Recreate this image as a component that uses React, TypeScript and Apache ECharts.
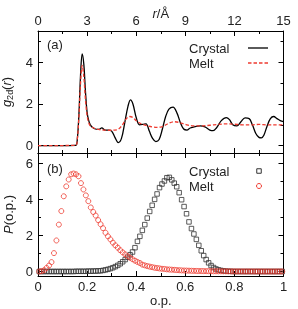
import React, { useEffect, useRef } from 'react';
import * as echarts from 'echarts';

// Panel (a): pair distribution g2d(r)
const rCrystal = [0, 2.3, 2.4, 2.5, 2.6, 2.7, 2.8, 2.9, 3.0, 3.1, 3.2, 3.3, 3.5, 3.7, 3.9, 4.1, 4.3, 4.5, 4.7, 4.9, 5.1, 5.3, 5.5, 5.65, 5.8, 6.0, 6.2, 6.4, 6.6, 6.8, 7.0, 7.2, 7.4, 7.6, 7.8, 8.0, 8.25, 8.5, 8.7, 8.9, 9.1, 9.3, 9.6, 9.9, 10.2, 10.5, 10.7, 10.9, 11.2, 11.5, 11.7, 11.9, 12.15, 12.4, 12.65, 12.9, 13.1, 13.3, 13.5, 13.65, 13.8, 14.0, 14.2, 14.4, 14.6, 14.8, 15.0];
const gCrystal = [0, 0.02, 0.3, 1.5, 3.4, 4.4, 3.9, 2.6, 1.6, 1.2, 1.0, 0.9, 0.8, 0.78, 0.85, 0.75, 0.75, 0.7, 0.4, 0.15, 0.35, 1.1, 1.9, 2.2, 2.0, 1.35, 1.0, 1.02, 1.05, 0.7, 0.35, 0.2, 0.3, 0.8, 1.4, 1.75, 1.85, 1.55, 1.1, 0.8, 0.75, 0.85, 0.92, 0.95, 0.9, 0.75, 0.72, 0.85, 1.2, 1.35, 1.25, 1.0, 0.95, 1.15, 1.33, 1.3, 1.0, 0.6, 0.4, 0.38, 0.5, 0.95, 1.3, 1.4, 1.3, 1.2, 1.15];
const rMelt = [0, 2.3, 2.4, 2.5, 2.6, 2.7, 2.8, 2.9, 3.0, 3.1, 3.2, 3.4, 3.7, 4.0, 4.4, 4.8, 5.0, 5.2, 5.4, 5.6, 5.8, 6.0, 6.3, 6.6, 7.0, 7.3, 7.6, 8.0, 8.3, 8.6, 9.0, 9.5, 10, 10.5, 11, 11.5, 12, 12.5, 13, 13.5, 14, 14.5, 15];
const gMelt = [0, 0.02, 0.3, 1.4, 3.0, 3.85, 3.3, 2.2, 1.45, 1.1, 0.95, 0.85, 0.78, 0.75, 0.74, 0.76, 0.85, 1.05, 1.3, 1.4, 1.35, 1.2, 1.05, 0.97, 0.9, 0.88, 0.92, 1.08, 1.15, 1.12, 1.02, 0.95, 0.95, 0.98, 1.02, 1.05, 1.03, 1.0, 1.0, 1.02, 1.0, 1.0, 1.0];

// Panel (b): order-parameter distributions, bins of width 0.01
const opBins = Array.from({ length: 100 }, (_, i) => +(0.005 + 0.01 * i).toFixed(3));
const pCrystal = [
  0, 0, 0, 0, 0, 0, 0, 0, 0, 0,
  0, 0, 0, 0, 0, 0.01, 0.01, 0.01, 0.01, 0.01,
  0.02, 0.02, 0.02, 0.03, 0.03, 0.04, 0.06, 0.09, 0.12, 0.16,
  0.21, 0.27, 0.34, 0.43, 0.54, 0.66, 0.79, 0.93, 1.08, 1.32,
  1.67, 1.95, 2.28, 2.6, 2.96, 3.33, 3.67, 4.0, 4.3, 4.65,
  4.85, 5.02, 5.2, 5.22, 5.08, 4.9, 4.7, 4.37, 3.98, 3.6,
  3.2, 2.75, 2.38, 2.08, 1.78, 1.45, 1.15, 0.88, 0.66, 0.48,
  0.33, 0.22, 0.14, 0.09, 0.06, 0.04, 0.02, 0.01, 0.01, 0,
  0, 0, 0, 0, 0, 0, 0, 0, 0, 0,
  0, 0, 0, 0, 0, 0, 0, 0, 0, 0,
];
const pMelt = [
  0, 0.02, 0.07, 0.2, 0.33, 0.52, 1.02, 1.72, 2.6, 3.35,
  4.17, 4.72, 5.1, 5.39, 5.43, 5.39, 5.28, 4.9, 4.55, 4.22,
  3.9, 3.55, 3.3, 3.1, 2.85, 2.62, 2.4, 2.15, 1.95, 1.78,
  1.6, 1.45, 1.32, 1.18, 1.06, 0.95, 0.85, 0.76, 0.68, 0.6,
  0.53, 0.47, 0.38, 0.34, 0.3, 0.27, 0.24, 0.21, 0.19, 0.17,
  0.15, 0.14, 0.12, 0.11, 0.1, 0.09, 0.08, 0.07, 0.06, 0.055,
  0.05, 0.045, 0.04, 0.035, 0.03, 0.028, 0.025, 0.022, 0.02, 0.018,
  0.016, 0.014, 0.012, 0.011, 0.01, 0.01, 0.009, 0.008, 0.007, 0.006,
  0.005, 0.005, 0.004, 0.004, 0.004, 0.003, 0.003, 0.003, 0.002, 0.002,
  0.002, 0.002, 0.001, 0.001, 0.001, 0.001, 0.001, 0.001, 0.001, 0.001,
];

const yTicksA = [0, 2, 4];
const yMinorA = [1, 3, 5];
const yTicksB = [0, 2, 4, 6];
const yMinorB = [1, 3, 5];

const FONT = '"Liberation Sans", Arial, Helvetica, sans-serif';
const TXT = '#222';
const RED = '#ee3b30';
const DARK = '#333';

const zip = (a: number[], b: number[]) => a.map((v, i) => [v, b[i]]);

export default function App() {
  const ref = useRef<HTMLDivElement>(null);
  useEffect(() => {
    if (!ref.current) return;
    const chart = echarts.init(ref.current, undefined, { renderer: 'svg' });
    const line = { show: true, onZero: false, lineStyle: { color: '#000', width: 1 } };
    const tick = (vals: number[] | undefined, len: number) => ({
      show: true, inside: true, length: len, ...(vals ? { customValues: vals } : {}),
      lineStyle: { color: '#000', width: 1 },
    });
    const label = { color: TXT, fontSize: 13, fontFamily: FONT, margin: 5 };
    const nameRich = {
      i: { fontStyle: 'italic', fontSize: 13, fontFamily: FONT, color: TXT, lineHeight: 16 },
      n: { fontSize: 13, fontFamily: FONT, color: TXT, lineHeight: 16 },
      s: { fontSize: 9, fontFamily: FONT, color: TXT, lineHeight: 16, verticalAlign: 'bottom' },
    };
    const yAx = (grid: number, min: number, max: number, pos: string, ticks: number[], len: number, labels: boolean, extra: any = {}) => ({
      type: 'value', gridIndex: grid, min, max, position: pos,
      axisLine: line,
      axisTick: tick(ticks, len),
      axisLabel: labels ? { ...label, customValues: ticks } : { show: false },
      splitLine: { show: false },
      ...extra,
    });
    const minor = { show: true, splitNumber: 2, length: 3, lineStyle: { color: '#000' } };
    const option: any = {
      animation: false,
      grid: [
        { left: 38, right: 14.5, top: 31, height: 122, outerBoundsMode: 'none', containLabel: false },
        { left: 38, right: 14.5, top: 153, height: 123, outerBoundsMode: 'none', containLabel: false },
      ],
      xAxis: [
        {
          type: 'value', gridIndex: 0, min: 0, max: 15, interval: 3, position: 'bottom',
          axisLine: line, axisTick: tick(undefined, 5), minorTick: minor,
          axisLabel: { show: false }, splitLine: { show: false },
        },
        {
          type: 'value', gridIndex: 0, min: 0, max: 15, interval: 3, position: 'top',
          axisLine: line, axisTick: tick(undefined, 5), minorTick: minor,
          axisLabel: { ...label, margin: 4 }, splitLine: { show: false },
          name: '{i|r}{n|/Å}', nameLocation: 'middle', nameGap: 10, nameMoveOverlap: false,
          nameTextStyle: { rich: nameRich },
        },
        {
          type: 'value', gridIndex: 1, min: 0, max: 1, interval: 0.2, position: 'bottom',
          axisLine: line, axisTick: tick(undefined, 5), minorTick: minor,
          axisLabel: { ...label, margin: 4 }, splitLine: { show: false },
          name: 'o.p.', nameLocation: 'middle', nameGap: 18, nameMoveOverlap: false,
          nameTextStyle: { color: TXT, fontSize: 13, fontFamily: FONT },
        },
        {
          type: 'value', gridIndex: 1, min: 0, max: 1, interval: 0.2, position: 'top',
          axisLine: line, axisTick: tick(undefined, 5), minorTick: minor,
          axisLabel: { show: false }, splitLine: { show: false },
        },
      ],
      yAxis: [
        yAx(0, -0.35, 5.5, 'left', yTicksA, 5, true, {
          name: '{i|g}{s|2d}{n|(}{i|r}{n|)}', nameLocation: 'middle', nameGap: 19, nameRotate: 90,
          nameTextStyle: { rich: nameRich },
        }),
        yAx(0, -0.35, 5.5, 'left', yMinorA, 3, false, { axisLine: { show: false, onZero: false } }),
        yAx(0, -0.35, 5.5, 'right', yTicksA, 5, false),
        yAx(0, -0.35, 5.5, 'right', yMinorA, 3, false, { axisLine: { show: false, onZero: false } }),
        yAx(1, -0.25, 6.57, 'left', yTicksB, 5, true, {
          name: '{i|P}{n|(o.p.)}', nameLocation: 'middle', nameGap: 19, nameRotate: 90,
          nameTextStyle: { rich: nameRich },
        }),
        yAx(1, -0.25, 6.57, 'left', yMinorB, 3, false, { axisLine: { show: false, onZero: false } }),
        yAx(1, -0.25, 6.57, 'right', yTicksB, 5, false),
        yAx(1, -0.25, 6.57, 'right', yMinorB, 3, false, { axisLine: { show: false, onZero: false } }),
      ],
      series: [
        {
          name: 'Crystal', type: 'line', xAxisIndex: 0, yAxisIndex: 0,
          data: zip(rCrystal, gCrystal), showSymbol: false, smooth: 0.35,
          lineStyle: { color: '#000', width: 1.3 }, z: 3,
        },
        {
          name: 'Melt', type: 'line', xAxisIndex: 0, yAxisIndex: 0,
          data: zip(rMelt, gMelt), showSymbol: false, smooth: 0.35,
          lineStyle: { color: RED, width: 1.3, type: [3.5, 2] }, z: 4,
        },
        {
          name: 'Crystal ', type: 'scatter', xAxisIndex: 2, yAxisIndex: 4,
          data: zip(opBins, pCrystal), symbol: 'rect', symbolSize: 4.5,
          itemStyle: { color: 'rgba(0,0,0,0)', borderColor: DARK, borderWidth: 1 }, z: 3,
        },
        {
          name: 'Melt ', type: 'scatter', xAxisIndex: 2, yAxisIndex: 4,
          data: zip(opBins, pMelt), symbol: 'circle', symbolSize: 5,
          itemStyle: { color: 'rgba(0,0,0,0)', borderColor: RED, borderWidth: 1 }, z: 4,
        },
      ],
      graphic: [
        { type: 'text', x: 47, y: 44, style: { text: '(a)', fill: TXT, font: `13px ${FONT}`, verticalAlign: 'middle' } },
        { type: 'text', x: 47, y: 168, style: { text: '(b)', fill: TXT, font: `13px ${FONT}`, verticalAlign: 'middle' } },
        { type: 'text', x: 189, y: 48, style: { text: 'Crystal', fill: TXT, font: `13px ${FONT}`, verticalAlign: 'middle' } },
        { type: 'line', shape: { x1: 248, y1: 48, x2: 268, y2: 48 }, style: { stroke: '#000', lineWidth: 1.3 } },
        { type: 'text', x: 189, y: 63, style: { text: 'Melt', fill: TXT, font: `13px ${FONT}`, verticalAlign: 'middle' } },
        { type: 'line', shape: { x1: 248, y1: 63, x2: 268, y2: 63 }, style: { stroke: RED, lineWidth: 1.3, lineDash: [3.5, 2] } },
        { type: 'text', x: 189, y: 171, style: { text: 'Crystal', fill: TXT, font: `13px ${FONT}`, verticalAlign: 'middle' } },
        { type: 'rect', shape: { x: 256.75, y: 168.75, width: 4.5, height: 4.5 }, style: { fill: 'none', stroke: DARK, lineWidth: 1 } },
        { type: 'text', x: 189, y: 186, style: { text: 'Melt', fill: TXT, font: `13px ${FONT}`, verticalAlign: 'middle' } },
        { type: 'circle', shape: { cx: 259, cy: 186, r: 2.5 }, style: { fill: 'none', stroke: RED, lineWidth: 1 } },
      ],
    };
    chart.setOption(option);
    return () => chart.dispose();
  }, []);
  return <div ref={ref} style={{ position: 'fixed', left: 0, top: 0, width: 298, height: 309 }} />;
}
